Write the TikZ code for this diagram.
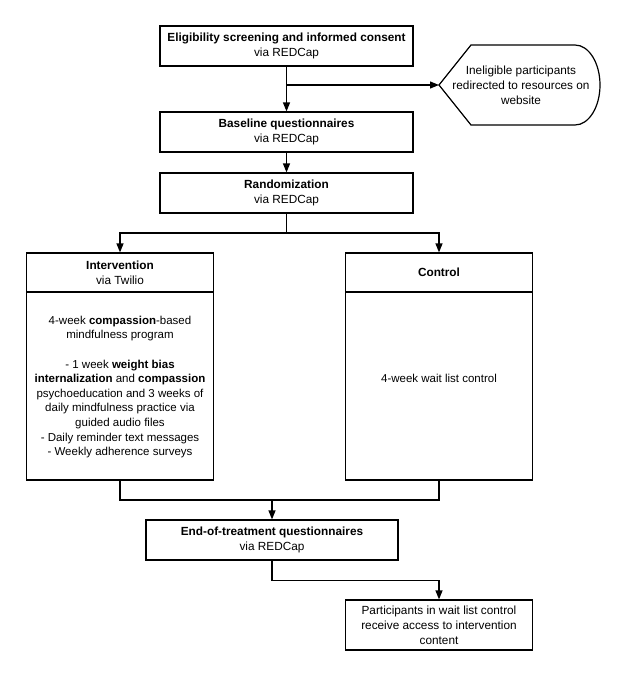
\documentclass[tikz,border=0pt]{standalone}
\usepackage{fontspec}
\setmainfont{Liberation Sans}
\usetikzlibrary{arrows.meta}

\tikzset{every picture/.style={line width=1.2pt}}
\tikzset{
	stepbox/.style={draw, rectangle, align=center, inner sep=0pt, font=\fontsize{11.8}{15}\selectfont},
	plaintext/.style={align=center, inner sep=0pt, font=\fontsize{11.5}{14.6}\selectfont},
	flowarrow/.style={-{Triangle[length=9pt,width=7pt]}}}

\begin{document}
\begin{tikzpicture}[x=1pt,y=1pt,yscale=-1,xscale=1]
	\useasboundingbox (0,0) rectangle (626,677);

	%Shape: Rectangle [consent]
	\node[stepbox, minimum width=253pt, minimum height=40pt] (consent) at (286.5,46) {\textbf{Eligibility screening and informed consent}\\via REDCap};
	%Shape: Rectangle [baseline]
	\node[stepbox, minimum width=253pt, minimum height=40pt] (baseline) at (286.5,132) {\textbf{Baseline questionnaires}\\via REDCap};
	%Shape: Rectangle [random]
	\node[stepbox, minimum width=253pt, minimum height=40pt] (random) at (286.5,193) {\textbf{Randomization}\\via REDCap};

	%Shape: Display [inelig]
	\draw (439,85) coordinate (tip) -- (471,45) -- (575,45) arc[start angle=-90, end angle=90, x radius=25, y radius=40] -- (471,125) -- cycle ;
	% Text Node
	\node[stepbox, draw=none] (inelig) at (521,85) {Ineligible participants\\redirected to resources on\\website};

	%Shape: Rectangle [interv]
	\node[stepbox, minimum width=187pt, minimum height=227pt] (interv) at (120,366.5) {};
	\node[stepbox, minimum width=187pt, minimum height=39pt] (intervhead) at (120,272.5) {\textbf{Intervention}\\via Twilio};
	\node[plaintext] (intervbody) at (120,387) {4-week \textbf{compassion}-based\\mindfulness program\\[14.6pt]- 1 week \textbf{weight bias}\\\textbf{internalization} and \textbf{compassion}\\psychoeducation and 3 weeks of\\daily mindfulness practice via\\guided audio files\\- Daily reminder text messages\\- Weekly adherence surveys};

	%Shape: Rectangle [control]
	\node[stepbox, minimum width=187pt, minimum height=227pt] (control) at (439,366.5) {};
	\node[stepbox, minimum width=187pt, minimum height=39pt] (controlhead) at (439,272.5) {\textbf{Control}};
	\node[plaintext] (controlbody) at (439,378) {4-week wait list control};

	%Shape: Rectangle [endq]
	\node[stepbox, minimum width=252pt, minimum height=40pt] (endq) at (272,540) {\textbf{End-of-treatment questionnaires}\\via REDCap};
	%Shape: Rectangle [access]
	\node[stepbox, minimum width=187pt, minimum height=50pt] (access) at (439,625) {Participants in wait list control\\receive access to intervention\\content};

	%Straight Lines
	\coordinate (branch) at (consent.south |- tip);
	\coordinate (split) at (286.5,233);
	\coordinate (merge) at (272,500);
	\draw[flowarrow] (consent.south) -- (baseline.north);
	\draw[flowarrow] (branch) -- (tip);
	\draw[flowarrow] (baseline.south) -- (random.north);
	\draw[flowarrow] (random.south) -- (split) -| (intervhead.north);
	\draw[flowarrow] (split) -| (controlhead.north);
	\draw (interv.south) |- (merge);
	\draw (control.south) |- (merge);
	\draw[flowarrow] (merge) -- (endq.north);
	\draw[flowarrow] (endq.south) -- ++(0,20) -| (access.north);

\end{tikzpicture}
\end{document}
